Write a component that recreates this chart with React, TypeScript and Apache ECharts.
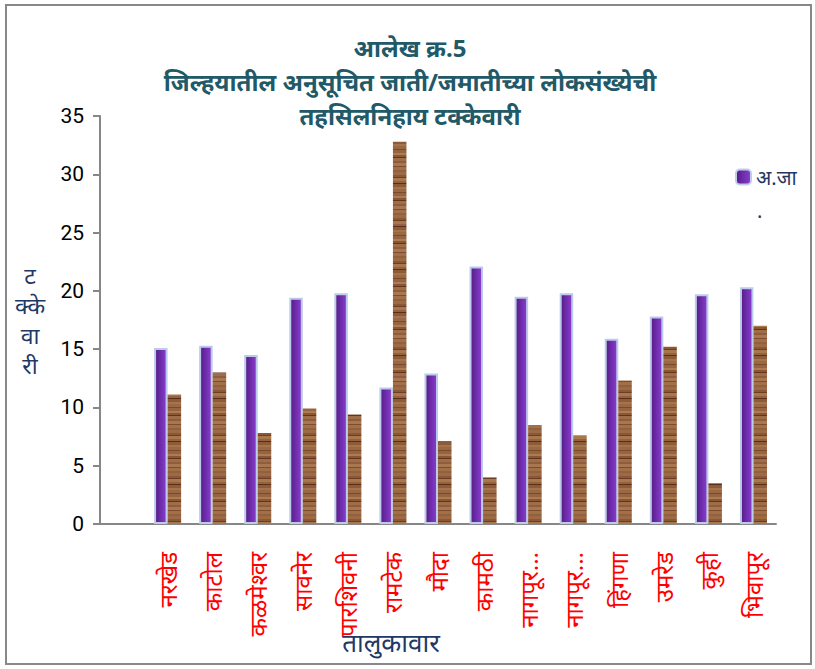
import React, { useEffect, useRef } from "react";
import * as echarts from "echarts";

const titleLines = ["आलेख क्र.5", "जिल्हयातील अनुसूचित जाती/जमातीच्या लोकसंख्येची", "तहसिलनिहाय टक्केवारी"];
const categories = ["", "नरखेड", "काटोल", "कळमेश्वर", "सावनेर", "पारशिवनी", "रामटेक", "मौदा", "कामठी", "नागपूर...", "नागपूर...", "हिंगणा", "उमरेड", "कुही", "भिवापूर"];
const scValues = [null, 15.1, 15.3, 14.5, 19.4, 19.8, 11.7, 12.9, 22.1, 19.5, 19.8, 15.9, 17.8, 19.7, 20.3];
const stValues = [null, 11.1, 13.0, 7.8, 9.9, 9.4, 32.8, 7.1, 4.0, 8.5, 7.6, 12.3, 15.2, 3.5, 17.0];
const seriesNames = ["अ.जा", "अ.ज."];
const legendTail = ".";
const yAxisName = ["ट", "क्के", "वा", "री"];
const xAxisName = "तालुकावार";
const yMin = 0;
const yMax = 35;
const yInterval = 5;

const stripes: [string, number][] = [
  ["#9c6a44", 3], ["#8a5838", 2], ["#6e3e24", 1], ["#a8784a", 3], ["#946240", 2],
  ["#5a2e18", 1], ["#8c5c3a", 3], ["#a6744a", 2], ["#9a6842", 3], ["#7a4a2c", 1],
  ["#966442", 3], ["#ae7c4e", 2], ["#8a5634", 2], ["#643420", 1], ["#9e6e48", 3],
  ["#8e5e3c", 2], ["#a87650", 3], ["#7e4c2e", 1], ["#a27048", 3], ["#92603c", 2],
];

function makeWood(): string {
  const h = stripes.reduce((s, x) => s + x[1], 0);
  const c = document.createElement("canvas");
  c.width = 8;
  c.height = h;
  const ctx = c.getContext("2d")!;
  let y = 0;
  for (const [col, hh] of stripes) {
    ctx.fillStyle = col;
    ctx.fillRect(0, y, 8, hh);
    y += hh;
  }
  return c.toDataURL();
}

export default function App() {
  const ref = useRef<HTMLDivElement>(null);
  useEffect(() => {
    if (!ref.current) return;
    const chart = echarts.init(ref.current, undefined, { renderer: "svg" });
    const wood = makeWood();
    const woodH = stripes.reduce((s, x) => s + x[1], 0);
    const font = "'Noto Sans', sans-serif";
    chart.setOption({
      animation: false,
      backgroundColor: "#ffffff",
      title: {
        text: titleLines.join("\n"),
        left: 405,
        top: 25,
        textAlign: "center",
        textStyle: { fontSize: 24, fontWeight: "bold", color: "#215968", lineHeight: 34, fontFamily: font },
      },
      legend: {
        data: [seriesNames[0]],
        left: 730,
        top: 162,
        itemWidth: 15,
        itemHeight: 15,
        textStyle: { fontSize: 20, color: "#1f3864", fontFamily: font },
        itemStyle: { borderColor: "#c0cdea", borderWidth: 2 },
      },
      grid: { left: 100, right: 39, top: 116, bottom: 145 },
      xAxis: {
        type: "category",
        data: categories,
        boundaryGap: true,
        axisLine: { lineStyle: { color: "#878787", width: 2 } },
        axisTick: { length: 6, lineStyle: { color: "#878787", width: 2 } },
        axisLabel: { interval: 0, rotate: 90, color: "#ff0000", fontSize: 24, margin: 28, fontFamily: font },
      },
      yAxis: {
        type: "value",
        min: yMin,
        max: yMax,
        interval: yInterval,
        splitLine: { show: false },
        axisLine: { show: true, lineStyle: { color: "#878787", width: 2 } },
        axisTick: { show: true, length: 7, lineStyle: { color: "#878787", width: 2 } },
        axisLabel: { color: "#000000", fontSize: 21, margin: 16, fontFamily: "Roboto, sans-serif" },
      },
      series: [
        {
          name: seriesNames[0],
          type: "bar",
          data: scValues,
          barGap: "0%",
          barCategoryGap: "40%",
          itemStyle: {
            color: new echarts.graphic.LinearGradient(0, 0, 1, 0, [
              { offset: 0, color: "#541c84" },
              { offset: 0.6, color: "#7530b4" },
              { offset: 1, color: "#8a3ed0" },
            ]),
            borderColor: "#bccbe9",
            borderWidth: 2,
          },
        },
        {
          name: seriesNames[1],
          type: "bar",
          data: stValues,
          itemStyle: {
            color: { image: wood, repeat: "repeat", imageWidth: 8, imageHeight: woodH } as any,
          },
        },
      ],
      graphic: [
        {
          type: "rect",
          shape: { x: 6, y: 5, width: 805, height: 659 },
          style: { fill: "none", stroke: "#888888", lineWidth: 2 },
          silent: true,
        },
        {
          type: "text",
          x: 757,
          y: 200,
          style: { text: legendTail, fontSize: 20, fill: "#1f3864", fontFamily: font },
        },
        {
          type: "text",
          x: 30,
          y: 260,
          style: {
            text: yAxisName.join("\n"),
            fontSize: 23,
            lineHeight: 30,
            fill: "#1f3864",
            textAlign: "center",
            fontFamily: font,
          },
        },
        {
          type: "text",
          x: 391,
          y: 642,
          z: 100,
          style: {
            text: xAxisName,
            fontSize: 26,
            fill: "#1f3864",
            textAlign: "center",
            textVerticalAlign: "middle",
            fontFamily: font,
          },
        },
      ],
    });
    return () => chart.dispose();
  }, []);
  return <div ref={ref} style={{ position: "absolute", left: 0, top: 0, width: 815, height: 669 }} />;
}
